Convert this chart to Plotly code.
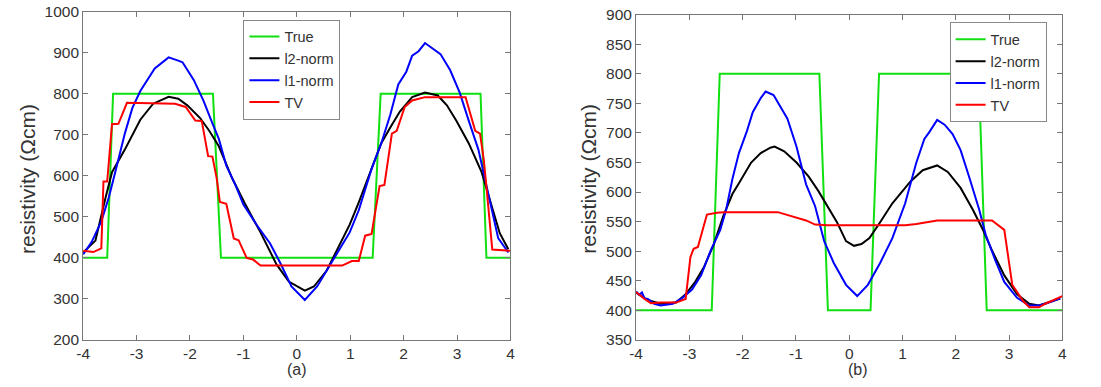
import plotly.graph_objects as go

# ---------------- Panel (a) data ----------------
a_true_x = [-4, -3.55, -3.44, -1.57, -1.42, 1.42, 1.57, 3.44, 3.55, 4]
a_true_y = [400, 400, 800, 800, 400, 400, 800, 800, 400, 400]

a_l2_x = [-4.00, -3.77, -3.58, -3.46, -3.22, -2.93, -2.69, -2.40, -2.22, -2.05, -1.81, -1.64,
          -1.46, -1.38, -1.21, -0.97, -0.68, -0.38, -0.15, 0.15, 0.32, 0.56, 0.79, 0.99, 1.16,
          1.40, 1.58, 1.75, 1.93, 2.16, 2.40, 2.64, 2.81, 2.99, 3.22, 3.46, 3.64, 3.80, 3.96]
a_l2_y = [413, 442, 547, 609, 664, 737, 776, 793, 788, 772, 741, 710,
          672, 648, 594, 532, 462, 384, 342, 320, 330, 369, 431, 481, 535,
          617, 679, 718, 757, 792, 803, 796, 772, 734, 679, 609, 532, 460, 421]

a_l1_x = [-4.00, -3.84, -3.66, -3.52, -3.40, -3.22, -3.08, -2.93, -2.66, -2.40, -2.22, -2.14,
          -1.93, -1.75, -1.58, -1.46, -1.32, -1.15, -1.00, -0.75, -0.50, -0.30, -0.10, 0.15,
          0.38, 0.62, 0.85, 0.99, 1.16, 1.40, 1.58, 1.75, 1.90, 2.05, 2.16, 2.28, 2.40, 2.52,
          2.69, 2.87, 3.05, 3.22, 3.40, 3.52, 3.64, 3.77, 3.96]
a_l1_y = [408, 439, 489, 547, 609, 703, 765, 807, 862, 889, 881, 877,
          834, 784, 728, 690, 625, 578, 530, 480, 435, 385, 330, 297,
          330, 381, 431, 462, 516, 617, 679, 749, 823, 854, 893, 904, 924, 912,
          897, 858, 803, 734, 664, 594, 524, 448, 413]

a_tv_x = [-4.00, -3.81, -3.66, -3.62, -3.55, -3.46, -3.34, -3.18, -2.28, -2.08, -1.90, -1.78,
          -1.66, -1.58, -1.50, -1.44, -1.32, -1.18, -1.09, -0.94, -0.82, -0.68, 0.85, 1.03,
          1.16, 1.28, 1.40, 1.55, 1.64, 1.78, 1.87, 2.02, 2.16, 2.40, 3.16, 3.34, 3.43, 3.50,
          3.56, 3.62, 3.66, 4.00]
a_tv_y = [417, 414, 423, 586, 586, 726, 727, 778, 776, 768, 735, 734,
          648, 647, 594, 536, 532, 447, 443, 400, 396, 381, 381, 392,
          392, 454, 458, 575, 578, 703, 710, 768, 784, 792, 792, 710, 703, 640,
          560, 470, 420, 417]

# ---------------- Panel (b) data ----------------
b_true_x = [-4, -2.58, -2.43, -0.56, -0.40, 0.40, 0.56, 2.43, 2.58, 4]
b_true_y = [400, 400, 800, 800, 400, 400, 800, 800, 400, 400]

b_l2_x = [-4.00, -3.80, -3.54, -3.25, -3.07, -2.89, -2.72, -2.54, -2.36, -2.19, -2.07, -1.84,
          -1.66, -1.48, -1.40, -1.22, -0.99, -0.76, -0.58, -0.41, -0.23, -0.06, 0.09, 0.23,
          0.38, 0.58, 0.81, 1.05, 1.15, 1.38, 1.65, 1.85, 2.09, 2.32, 2.50, 2.68, 2.91, 3.15,
          3.38, 3.56, 3.80, 3.96]
b_l2_y = [430, 418, 411, 413, 427, 448, 474, 512, 560, 597, 615, 650,
          666, 675, 677, 669, 650, 626, 602, 576, 549, 517, 509, 512,
          522, 549, 581, 607, 618, 637, 645, 634, 607, 570, 538, 501, 459, 427,
          411, 408, 416, 420]

b_l1_x = [-4.00, -3.94, -3.89, -3.84, -3.78, -3.66, -3.54, -3.31, -3.13, -2.95, -2.78, -2.60,
          -2.42, -2.31, -2.19, -2.07, -1.92, -1.81, -1.66, -1.57, -1.42, -1.31, -1.16, -0.99,
          -0.81, -0.64, -0.47, -0.29, -0.06, 0.15, 0.35, 0.58, 0.81, 1.05, 1.26, 1.41, 1.50,
          1.65, 1.79, 1.94, 2.09, 2.26, 2.44, 2.56, 2.74, 2.91, 3.15, 3.38, 3.56, 3.68, 3.96]
b_l1_y = [432, 426, 430, 420, 419, 411, 408, 411, 421, 435, 459, 501,
          536, 570, 623, 666, 703, 735, 759, 770, 764, 746, 724, 677,
          613, 576, 517, 480, 443, 424, 443, 480, 522, 581, 650, 690, 701,
          722, 714, 698, 671, 623, 570, 528, 485, 448, 421, 408, 408, 411, 420]

b_tv_x = [-4.00, -3.84, -3.72, -3.54, -3.25, -3.07, -2.98, -2.92, -2.84, -2.67, -2.48, -2.36,
          -1.34, -1.16, -0.99, -0.81, -0.64, -0.41, 1.05, 1.26, 1.65, 2.68, 2.91, 3.06,
          3.26, 3.38, 3.56, 3.68, 4.00]
b_tv_y = [431, 419, 412, 413, 413, 419, 490, 504, 507, 562, 565, 566,
          566, 561, 557, 552, 545, 544, 544, 546, 552, 552, 536, 443,
          416, 405, 405, 411, 424]

series_names = ["True", "l2-norm", "l1-norm", "TV"]
series_colors = ["#10e010", "#000000", "#0000ff", "#ff0000"]

x_ticks = [-4, -3, -2, -1, 0, 1, 2, 3, 4]
x_ticklabels = ["-4", "-3", "-2", "-1", "0", "1", "2", "3", "4"]
a_y_ticks = [200, 300, 400, 500, 600, 700, 800, 900, 1000]
b_y_ticks = [350, 400, 450, 500, 550, 600, 650, 700, 750, 800, 850, 900]
y_title = "resistivity (Ωcm)"
panel_labels = ["(a)", "(b)"]

W, H = 1101, 387
FONT = "Liberation Sans, Arial, sans-serif"
TXT = "#333333"

fig = go.Figure()

panel_a = [(a_true_x, a_true_y), (a_l2_x, a_l2_y), (a_l1_x, a_l1_y), (a_tv_x, a_tv_y)]
panel_b = [(b_true_x, b_true_y), (b_l2_x, b_l2_y), (b_l1_x, b_l1_y), (b_tv_x, b_tv_y)]

for (xs, ys), name, col in zip(panel_a, series_names, series_colors):
    fig.add_trace(go.Scatter(x=xs, y=ys, mode="lines", name=name,
                             line=dict(color=col, width=2), xaxis="x", yaxis="y",
                             legend="legend"))
for (xs, ys), name, col in zip(panel_b, series_names, series_colors):
    fig.add_trace(go.Scatter(x=xs, y=ys, mode="lines", name=name,
                             line=dict(color=col, width=2), xaxis="x2", yaxis="y2",
                             legend="legend2"))

def px_x(p):
    return p / W

def px_y(p):
    return 1 - p / H

axis_common = dict(showline=True, linecolor="#777777", linewidth=1, mirror="ticks",
                   ticks="inside", ticklen=5, tickcolor="#777777", showgrid=False,
                   zeroline=False, ticklabeloverflow="allow",
                   tickfont=dict(family=FONT, size=15.5, color=TXT))

legend_common = dict(xanchor="left", yanchor="top", bgcolor="white",
                     bordercolor="#888888", borderwidth=1,
                     font=dict(family=FONT, size=14.5, color=TXT), tracegroupgap=0)

fig.update_layout(
    width=W, height=H,
    margin=dict(l=0, r=0, t=0, b=0),
    paper_bgcolor="white", plot_bgcolor="white",
    showlegend=True,
    xaxis=dict(domain=[px_x(77), px_x(509)], range=[-4, 4], tickvals=x_ticks,
               ticktext=x_ticklabels, anchor="y", **axis_common),
    yaxis=dict(domain=[px_y(346), px_y(3)], range=[200, 1000], tickvals=a_y_ticks,
               anchor="x", **axis_common),
    xaxis2=dict(domain=[px_x(636), px_x(1067)], range=[-4, 4], tickvals=x_ticks,
                ticktext=x_ticklabels, anchor="y2", **axis_common),
    yaxis2=dict(domain=[px_y(346), px_y(6)], range=[350, 900], tickvals=b_y_ticks,
                anchor="x2", **axis_common),
    legend=dict(x=px_x(239), y=px_y(11), **legend_common),
    legend2=dict(x=px_x(953), y=px_y(14), **legend_common),
)

annots = [
    dict(text=y_title, x=px_x(20), y=px_y(178), textangle=-90, size=21, yanchor="middle"),
    dict(text=y_title, x=px_x(588), y=px_y(178), textangle=-90, size=21, yanchor="middle"),
    dict(text=panel_labels[0], x=px_x(293), y=0, textangle=0, size=16, yanchor="bottom"),
    dict(text=panel_labels[1], x=px_x(860), y=0, textangle=0, size=16, yanchor="bottom"),
]
for a in annots:
    size = a.pop("size")
    fig.add_annotation(xref="paper", yref="paper", showarrow=False,
                       xanchor="center", borderpad=0,
                       font=dict(family=FONT, size=size, color=TXT), **a)

fig.write_html("out.html")
